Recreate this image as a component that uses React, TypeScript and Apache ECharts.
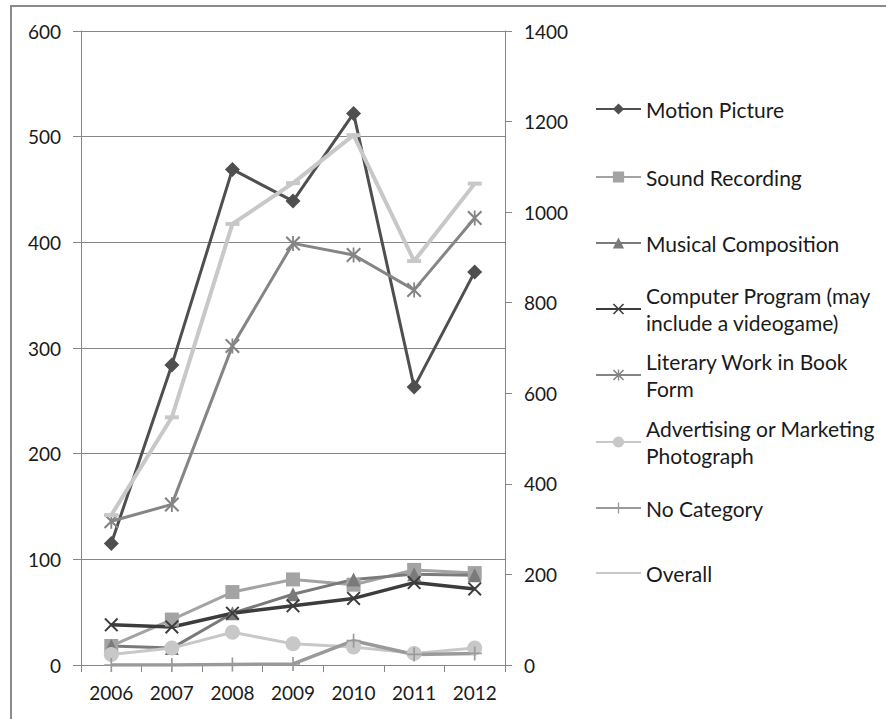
import React, { useEffect, useRef } from 'react';
import * as echarts from 'echarts';

const years = ['2006', '2007', '2008', '2009', '2010', '2011', '2012'];

const motionPicture = [115, 284, 469, 439, 522, 263, 372];
const soundRecording = [18, 43, 69, 81, 76, 90, 87];
const musicalComposition = [18, 16, 49, 67, 81, 86, 85];
const computerProgram = [38, 36, 49, 56, 63, 78, 72];
const literaryWork = [136, 152, 302, 399, 388, 355, 423];
const advertisingPhoto = [10, 16, 31, 20, 17, 11, 16];
const noCategory = [0, 0, 0.5, 1, 23, 10, 11];
const overall = [331, 547, 974, 1064, 1170, 892, 1063];

const leftTicks = { min: 0, max: 600, interval: 100 };
const rightTicks = { min: 0, max: 1400, interval: 200 };

const seriesNames = [
  'Motion Picture',
  'Sound Recording',
  'Musical Composition',
  'Computer Program (may include a videogame)',
  'Literary Work in Book Form',
  'Advertising or Marketing Photograph',
  'No Category',
  'Overall',
];
const legendTexts = [
  'Motion Picture',
  'Sound Recording',
  'Musical Composition',
  'Computer Program (may\ninclude a videogame)',
  'Literary Work in Book\nForm',
  'Advertising or Marketing\nPhotograph',
  'No Category',
  'Overall',
];

const FONT = 'Lato';
const TEXT_COLOR = '#1a1a1a';
const AXIS_COLOR = '#868686';

const X_PATH = 'path://M0,1 L1,0 L5,4 L9,0 L10,1 L6,5 L10,9 L9,10 L5,6 L1,10 L0,9 L4,5 Z';
const STAR_PATH =
  'path://M0,1 L1,0 L5,4 L9,0 L10,1 L6,5 L10,9 L9,10 L5,6 L1,10 L0,9 L4,5 Z M4.4,0 L5.6,0 L5.6,10 L4.4,10 Z';
const PLUS_PATH =
  'path://M4.4,0 L5.6,0 L5.6,4.4 L10,4.4 L10,5.6 L5.6,5.6 L5.6,10 L4.4,10 L4.4,5.6 L0,5.6 L0,4.4 L4.4,4.4 Z';

export default function App() {
  const ref = useRef<HTMLDivElement>(null);

  useEffect(() => {
    if (!ref.current) return;
    const chart = echarts.init(ref.current, null, { renderer: 'svg' });

    const mk = (
      name: string,
      data: number[],
      color: string,
      symbol: string,
      symbolSize: number | number[],
      width: number,
      yAxisIndex = 0
    ) => ({
      name,
      type: 'line',
      yAxisIndex,
      data,
      symbol,
      symbolSize,
      showSymbol: true,
      lineStyle: { color, width },
      itemStyle: { color, borderWidth: 0 },
      emphasis: { disabled: true },
    });

    const series = [
      mk(seriesNames[0], motionPicture, '#4f4f4f', 'diamond', 15, 3),
      mk(seriesNames[1], soundRecording, '#a3a3a3', 'rect', 14, 3),
      mk(seriesNames[2], musicalComposition, '#7a7a7a', 'triangle', 14, 3),
      mk(seriesNames[3], computerProgram, '#3c3c3c', X_PATH, 14, 3.5),
      mk(seriesNames[4], literaryWork, '#858585', STAR_PATH, 15, 3),
      mk(seriesNames[5], advertisingPhoto, '#c8c8c8', 'circle', 15, 3),
      mk(seriesNames[6], noCategory, '#9a9a9a', PLUS_PATH, 14, 3.5),
      mk(seriesNames[7], overall, '#c8c8c8', 'rect', [14, 4], 4, 1),
    ];

    const centers = [109, 177, 243, 309, 375, 442, 508, 573];
    const legends = seriesNames.map((name, i) => {
      const two = legendTexts[i].indexOf('\n') >= 0;
      const leg: any = {
        show: true,
        orient: 'vertical',
        left: 595,
        top: two ? centers[i] - 40.5 : centers[i] - 13.5,
        padding: 0,
        itemGap: 0,
        itemWidth: 45,
        itemHeight: 14,
        selectedMode: false,
        data: [name],
        formatter: () => legendTexts[i],
        textStyle: {
          fontFamily: FONT,
          fontSize: 21,
          color: TEXT_COLOR,
          lineHeight: 27,
          padding: two ? [27, 0, 0, 0] : 0,
        },
      };
      if (name === 'Overall') {
        leg.itemStyle = { opacity: 0 };
      }
      return leg;
    });

    chart.setOption({
      animation: false,
      backgroundColor: '#ffffff',
      textStyle: { fontFamily: FONT },
      grid: { left: 81, right: 381, top: 31, bottom: 54, containLabel: false },
      legend: legends,
      xAxis: {
        type: 'category',
        data: years,
        boundaryGap: true,
        axisLine: { show: true, lineStyle: { color: AXIS_COLOR, width: 1 } },
        axisTick: { show: true, length: 7, alignWithLabel: false, lineStyle: { color: AXIS_COLOR } },
        axisLabel: { fontFamily: FONT, fontSize: 19, color: TEXT_COLOR, margin: 18 },
        splitLine: { show: false },
      },
      yAxis: [
        {
          type: 'value',
          position: 'left',
          min: leftTicks.min,
          max: leftTicks.max,
          interval: leftTicks.interval,
          axisLine: { show: true, lineStyle: { color: AXIS_COLOR, width: 1 } },
          axisTick: { show: true, length: 8, lineStyle: { color: AXIS_COLOR } },
          axisLabel: {
            fontFamily: FONT,
            fontSize: 19,
            color: TEXT_COLOR,
            margin: 20,
            formatter: (v: number) => String(v),
          },
          splitLine: { show: true, lineStyle: { color: AXIS_COLOR, width: 1 } },
        },
        {
          type: 'value',
          position: 'right',
          min: rightTicks.min,
          max: rightTicks.max,
          interval: rightTicks.interval,
          axisLine: { show: true, lineStyle: { color: AXIS_COLOR, width: 1 } },
          axisTick: { show: true, length: 7, lineStyle: { color: AXIS_COLOR } },
          axisLabel: {
            fontFamily: FONT,
            fontSize: 19,
            color: TEXT_COLOR,
            margin: 19,
            formatter: (v: number) => String(v),
          },
          splitLine: { show: false },
        },
      ],
      graphic: [
        {
          type: 'rect',
          silent: true,
          shape: { x: 11, y: 6, width: 900, height: 800 },
          style: { fill: 'none', stroke: '#8a8a8a', lineWidth: 2 },
        },
      ],
      series,
    });

    return () => chart.dispose();
  }, []);

  return (
    <div
      ref={ref}
      style={{ position: 'fixed', left: 0, top: 0, width: 886, height: 719 }}
    />
  );
}
